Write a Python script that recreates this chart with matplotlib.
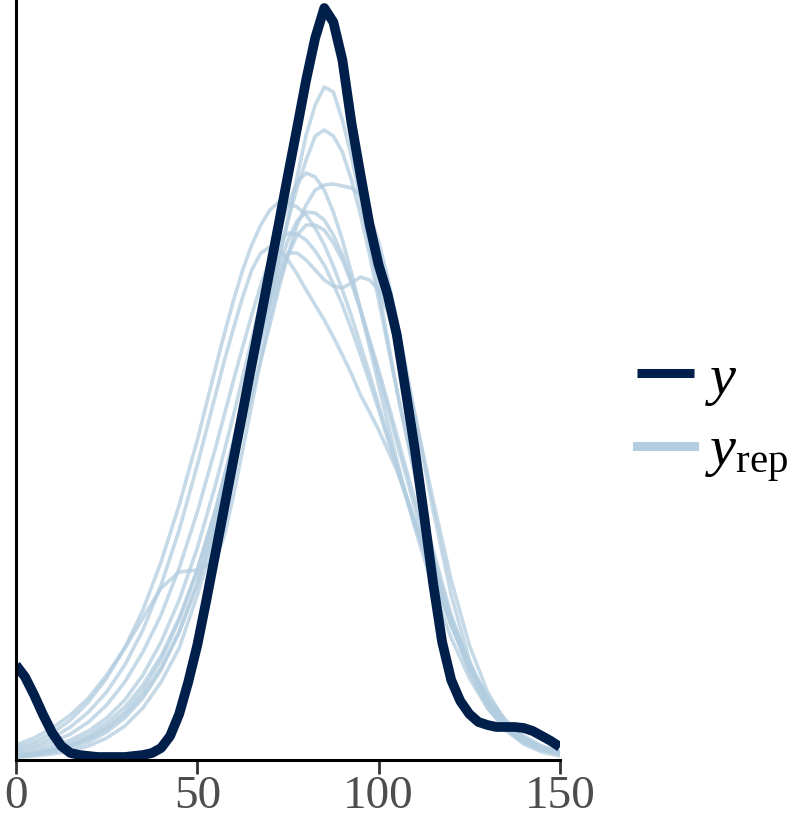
import numpy as np
import matplotlib
matplotlib.use("Agg")
import matplotlib.pyplot as plt

plt.rcParams['font.family'] = ['Liberation Serif', 'DejaVu Serif']
plt.rcParams['mathtext.fontset'] = 'custom'
plt.rcParams['mathtext.rm'] = 'Liberation Serif'
plt.rcParams['mathtext.it'] = 'Liberation Serif:italic'

y_x = np.arange(0, 150.1, 2.5)
y_d = [95, 83, 65, 45, 27, 14, 7, 5, 4, 3, 3, 3, 3, 4, 5, 7, 12, 24, 46, 78,
       115, 160, 207, 254, 301, 348, 396, 443, 490, 537, 585, 632, 680, 722,
       752, 738, 700, 637, 585, 535, 495, 465, 425, 368, 310, 245, 177, 118,
       80, 59, 46, 38, 35, 33, 33, 33, 32, 29, 24, 19, 13]

# replicated densities (y_rep); finer steps around the peaks
grid = np.concatenate([np.arange(0, 56, 5), np.arange(57.5, 110.1, 2.5),
                       np.arange(115, 151, 5)])
rep_a = [3, 5, 8, 12, 18, 28, 42, 62, 90, 128, 178, 240,
         275, 310, 348, 385, 423, 460, 500, 540, 583, 625, 655, 673, 668, 640,
         603, 560, 515, 470, 420, 370, 327, 285,
         205, 138, 88, 52, 30, 17, 10, 6]
rep_b = [4, 6, 10, 15, 22, 33, 48, 70, 100, 140, 190, 250,
         285, 320, 358, 395, 433, 470, 505, 540, 572, 600, 624, 630, 624, 608,
         580, 545, 505, 460, 415, 370, 327, 285,
         210, 145, 95, 58, 34, 19, 11, 6]
rep_c = [6, 9, 14, 20, 29, 42, 60, 85, 118, 160, 212, 275,
         310, 345, 383, 420, 458, 495, 528, 555, 578, 587, 583, 570, 548, 520,
         487, 450, 413, 375, 337, 300, 265, 232,
         172, 122, 82, 52, 32, 19, 11, 7]
rep_d = [3, 4, 6, 9, 14, 22, 34, 52, 78, 112, 165, 225,
         260, 295, 330, 365, 400, 435, 472, 505, 535, 555, 570, 575, 576, 574,
         572, 565, 545, 518, 482, 440, 393, 345,
         250, 165, 100, 56, 30, 16, 8, 4]
rep_e = [12, 18, 27, 40, 58, 82, 112, 150, 198, 255, 320, 392,
         427, 460, 490, 515, 535, 550, 558, 557, 553, 545, 532, 515, 494, 470,
         444, 415, 386, 355, 325, 295, 266, 237,
         183, 135, 95, 62, 38, 22, 12, 7]
rep_f = [5, 7, 11, 17, 25, 37, 53, 75, 104, 142, 190, 250,
         284, 318, 354, 390, 425, 460, 492, 520, 539, 548, 547, 540, 525, 505,
         480, 450, 418, 385, 352, 318, 285, 252,
         190, 135, 90, 56, 33, 19, 11, 6]
rep_g = [8, 12, 18, 26, 38, 55, 78, 108, 145, 192, 248, 312,
         346, 380, 413, 445, 475, 500, 519, 527, 526, 520, 509, 495, 476, 455,
         431, 405, 378, 350, 321, 292, 263, 235,
         182, 135, 95, 63, 40, 24, 14, 8]
rep_h = [10, 15, 22, 33, 48, 68, 95, 130, 175, 230, 295, 365,
         400, 432, 463, 490, 507, 513, 510, 500, 486, 470, 455, 440, 423, 405,
         386, 365, 348, 330, 310, 290, 265, 240,
         190, 140, 97, 62, 38, 22, 13, 8]
rep_i = [4, 6, 9, 14, 21, 31, 45, 65, 92, 128, 175, 235,
         270, 305, 343, 380, 418, 455, 486, 507, 507, 500, 490, 480, 474, 472,
         477, 483, 480, 470, 448, 420, 385, 345,
         260, 180, 115, 68, 38, 21, 12, 7]
rep_j = [15, 22, 32, 45, 62, 85, 112, 142, 172, 188, 190, 200,
         225, 265, 310, 355, 400, 443, 478, 505, 525, 535, 535, 530, 517, 500,
         477, 450, 420, 390, 358, 325, 292, 260,
         198, 142, 96, 60, 36, 21, 12, 7]
reps = [rep_a, rep_b, rep_c, rep_d, rep_e, rep_f, rep_g, rep_h, rep_i, rep_j]

dark = '#011f4b'
light = '#b3cde0'

fig = plt.figure(figsize=(8, 8.17), dpi=100)
ax = fig.add_axes([16 / 800, 57 / 817, 544 / 800, 760 / 817])

for i, r in enumerate(reps):
    ax.plot(grid, r, color=light, lw=2.6, alpha=0.75, solid_joinstyle='round',
            label=r'$y_{\mathrm{rep}}$' if i == 0 else None)
ax.plot(y_x, y_d, color=dark, lw=7.0, solid_capstyle='butt',
        solid_joinstyle='round', label=r'$y$')

ax.set_xlim(0, 150)
ax.set_ylim(0, 760)
ax.set_yticks([])
ax.set_xticks([0, 50, 100, 150])
ax.tick_params(axis='x', length=10, width=2, color='#333333', labelsize=34,
               labelcolor='#4d4d4d', pad=1)
for s in ['top', 'right']:
    ax.spines[s].set_visible(False)
for s in ['left', 'bottom']:
    ax.spines[s].set_linewidth(2.2)
    ax.spines[s].set_color('black')

h, l = ax.get_legend_handles_labels()
leg = ax.legend(h[::-1], l[::-1], loc='center left', bbox_to_anchor=(637 / 800, 398 / 817),
                bbox_transform=fig.transFigure, frameon=False, fontsize=42,
                borderpad=0, borderaxespad=0, handlelength=0.97,
                handletextpad=0.2, labelspacing=0.3)
for line in leg.get_lines():
    line.set_linewidth(6.5)
    line.set_alpha(1)

fig.savefig('out.png', dpi=100)
